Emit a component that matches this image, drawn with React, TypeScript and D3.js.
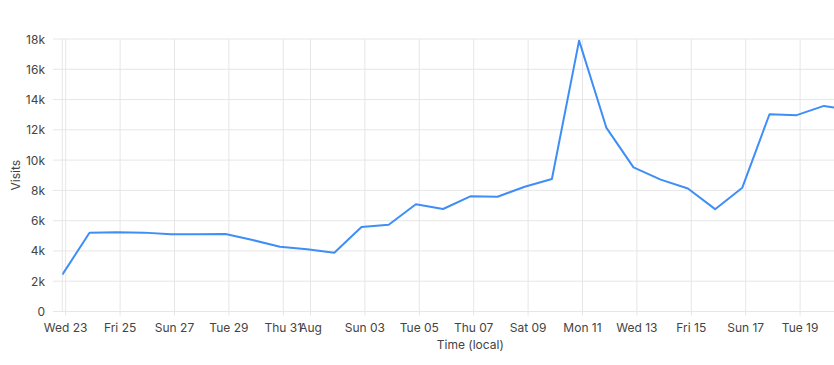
import React from "react";
import * as d3 from "d3";

// Daily visits (UTC day), plotted in local time (UTC-3)
const dayKeys: string[] = [
  "2025-07-23", "2025-07-24", "2025-07-25", "2025-07-26", "2025-07-27", "2025-07-28",
  "2025-07-29", "2025-07-30", "2025-07-31", "2025-08-01", "2025-08-02", "2025-08-03",
  "2025-08-04", "2025-08-05", "2025-08-06", "2025-08-07", "2025-08-08", "2025-08-09",
  "2025-08-10", "2025-08-11", "2025-08-12", "2025-08-13", "2025-08-14", "2025-08-15",
  "2025-08-16", "2025-08-17", "2025-08-18", "2025-08-19", "2025-08-20", "2025-08-21",
];
const visits: number[] = [
  2430, 5200, 5230, 5210, 5100, 5110,
  5120, 4720, 4280, 4110, 3880, 5580,
  5730, 7080, 6770, 7610, 7580, 8240,
  8750, 17890, 12150, 9520, 8710, 8120,
  6760, 8180, 13030, 12970, 13580, 13280,
];

const xTickDates: string[] = [
  "2025-07-23", "2025-07-25", "2025-07-27", "2025-07-29", "2025-07-31", "2025-08-01",
  "2025-08-03", "2025-08-05", "2025-08-07", "2025-08-09", "2025-08-11", "2025-08-13",
  "2025-08-15", "2025-08-17", "2025-08-19",
];
const xTickLabels: string[] = [
  "Wed 23", "Fri 25", "Sun 27", "Tue 29", "Thu 31", "Aug",
  "Sun 03", "Tue 05", "Thu 07", "Sat 09", "Mon 11", "Wed 13",
  "Fri 15", "Sun 17", "Tue 19",
];
const yTicks: number[] = [0, 2000, 4000, 6000, 8000, 10000, 12000, 14000, 16000, 18000];
const yTickLabels: string[] = ["0", "2k", "4k", "6k", "8k", "10k", "12k", "14k", "16k", "18k"];

const W = 834;
const H = 365;
const HOUR = 3600 * 1000;
const DAY = 24 * HOUR;
const tzOffset = -3 * HOUR;

const parse = (s: string) => {
  const [y, m, d] = s.split("-").map(Number);
  return Date.UTC(y, m - 1, d);
};

const plotLeft = 62.3;
const plotTop = 39;
const plotBottom = 311.5;
const pxPerDay = 27.2;
const domainDays = 30;

export default function App() {
  const t0 = parse(dayKeys[0]) + tzOffset;
  const x = d3
    .scaleUtc()
    .domain([new Date(t0), new Date(t0 + domainDays * DAY)])
    .range([plotLeft, plotLeft + domainDays * pxPerDay]);
  const y = d3.scaleLinear().domain([0, 18000]).range([plotBottom, plotTop]);

  const pts = dayKeys.map((k, i) => ({ t: new Date(parse(k) + tzOffset), v: visits[i] }));
  const line = d3
    .line<{ t: Date; v: number }>()
    .x((d) => x(d.t))
    .y((d) => y(d.v));

  const textColor = "#444";
  const gridColor = "#e6e6e6";
  const font = "Inter, 'Noto Sans', sans-serif";
  const [r0, r1] = x.range();

  return (
    <svg
      width={W}
      height={H}
      style={{ position: "absolute", left: 0, top: 0, background: "#fff" }}
      fontFamily={font}
    >
      <defs>
        <clipPath id="plotclip">
          <rect x={plotLeft} y={0} width={W - plotLeft} height={H} />
        </clipPath>
      </defs>
      {/* horizontal grid */}
      {yTicks.map((v) => (
        <line key={"h" + v} x1={53} x2={W} y1={y(v)} y2={y(v)} stroke={gridColor} strokeWidth={1} />
      ))}
      {/* left plot edge */}
      <line x1={plotLeft} x2={plotLeft} y1={plotTop} y2={plotBottom} stroke={gridColor} strokeWidth={1} />
      {/* vertical grid */}
      {xTickDates.map((d) => {
        const xx = x(new Date(parse(d)));
        return (
          <line key={"v" + d} x1={xx} x2={xx} y1={plotTop} y2={plotBottom + 4} stroke={gridColor} strokeWidth={1} />
        );
      })}
      {/* y labels */}
      {yTicks.map((v, i) => (
        <text
          key={"yl" + v}
          x={45}
          y={y(v)}
          textAnchor="end"
          dominantBaseline="central"
          fontSize={12}
          fill={textColor}
        >
          {yTickLabels[i]}
        </text>
      ))}
      {/* x labels */}
      {xTickDates.map((d, i) => (
        <text
          key={"xl" + d}
          x={x(new Date(parse(d)))}
          y={331.5}
          textAnchor="middle"
          fontSize={12}
          fill={textColor}
        >
          {xTickLabels[i]}
        </text>
      ))}
      <text
        x={(r0 + r1) / 2}
        y={348.5}
        textAnchor="middle"
        fontSize={12}
        fill={textColor}
      >
        Time (local)
      </text>
      <text
        transform={`translate(15,${(plotTop + plotBottom) / 2}) rotate(-90)`}
        textAnchor="middle"
        dominantBaseline="central"
        fontSize={12}
        fill={textColor}
      >
        Visits
      </text>
      <path
        d={line(pts) || ""}
        fill="none"
        stroke="#3f8ef7"
        strokeWidth={2}
        strokeLinejoin="round"
        clipPath="url(#plotclip)"
      />
    </svg>
  );
}
